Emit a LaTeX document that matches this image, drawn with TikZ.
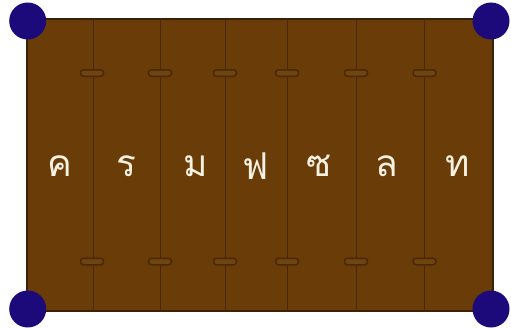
\documentclass[tikz,border=0pt]{standalone}
\usepackage{fontspec}
\newfontfamily\thaifont[Script=Thai]{Loma}
\definecolor{madera}{RGB}{106,60,8}
\definecolor{vetamad}{RGB}{72,40,6}
\definecolor{ranurafill}{RGB}{112,68,14}
\definecolor{clavo}{RGB}{28,10,122}
\definecolor{letrablanca}{RGB}{246,241,226}
\begin{document}
\begin{tikzpicture}[x=1pt,y=-1pt,
    ranura/.style={draw=vetamad, fill=ranurafill, line width=1.5pt, rounded corners=3pt,
      minimum width=23pt, minimum height=6.5pt, inner sep=0pt},
    letra/.style={text=letrablanca, font=\thaifont\fontsize{37}{40}\selectfont, inner sep=0pt},
    esquina/.style={circle, fill=clavo, minimum size=37pt, inner sep=0pt}]
    \useasboundingbox (0,0) rectangle (511,329);

    % Tablero de madera
    \draw[fill=madera, draw=vetamad!80!black, line width=1.2pt] (27,19) rectangle (493,311);

    % Divisiones entre tablas
    \foreach \x in {93,160.5,225,287,356,424.5}
        \draw[vetamad, line width=0.9pt] (\x,19) -- (\x,311);

    % Ranuras arriba y abajo
    \foreach \x [count=\i] in {92,160,225,287,356,424.5} {
        \node[ranura] (ra\i) at (\x,73) {};
        \node[ranura] (rb\i) at (\x,261.5) {};
    }

    % Letras
    \foreach \l/\x [count=\i] in {ค/60,ร/126,ม/196,ฟ/256,ซ/319,ล/387,ท/458}
        \node[letra] (l\i) at (\x,166) {\l};

    % Clavos en las esquinas
    \node[esquina] (c1) at (27.7,21) {};
    \node[esquina] (c2) at (491,21) {};
    \node[esquina] (c3) at (27.7,309) {};
    \node[esquina] (c4) at (491,309) {};
\end{tikzpicture}
\end{document}
